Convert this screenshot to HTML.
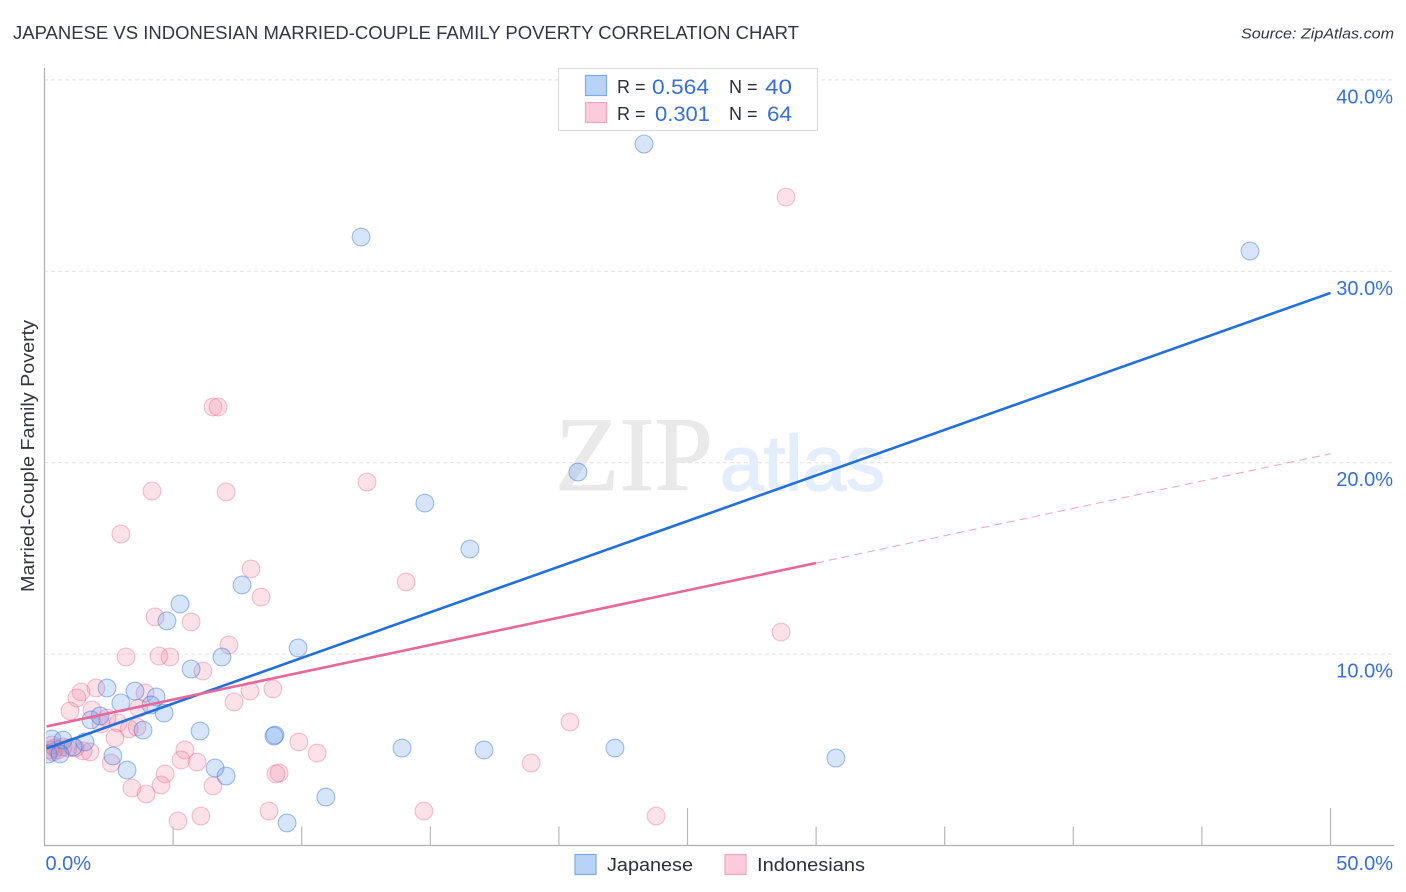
<!DOCTYPE html>
<html lang="en">
<head>
<meta charset="utf-8">
<title>Japanese vs Indonesian Married-Couple Family Poverty Correlation Chart</title>
<style>
html,body{margin:0;padding:0;background:#fff;width:1406px;height:892px;overflow:hidden}
svg{display:block}
text{font-family:"Liberation Sans",sans-serif}
</style>
</head>
<body>
<svg id="chart" xmlns="http://www.w3.org/2000/svg" width="1406" height="892" viewBox="0 0 1406 892">
  <defs><clipPath id="plot-clip"><rect x="46" y="60" width="1350" height="786"/></clipPath></defs>
  <rect x="0" y="0" width="1406" height="892" fill="#fff"/>
  <text x="13" y="39" font-size="18.5" fill="#33373d" textLength="786" lengthAdjust="spacingAndGlyphs">JAPANESE VS INDONESIAN MARRIED-COUPLE FAMILY POVERTY CORRELATION CHART</text>
  <text x="1241" y="38.5" font-size="15" font-style="italic" fill="#33373d" textLength="153" lengthAdjust="spacingAndGlyphs">Source: ZipAtlas.com</text>

  <g id="grid-layer"></g>

  <g>
    <text x="555" y="490" font-size="106" fill="#e9e9e9" stroke="#e9e9e9" stroke-width="0.8" style="font-family:'Liberation Serif',serif" textLength="158" lengthAdjust="spacingAndGlyphs">ZIP</text>
    <text x="720" y="490" font-size="78" fill="#e4edfb" stroke="#e4edfb" stroke-width="1.6" textLength="165" lengthAdjust="spacingAndGlyphs">atlas</text>
  </g>

  <g id="points-layer" clip-path="url(#plot-clip)"></g>
  <g id="lines-layer"></g>

  <g id="axes-layer">
    <line x1="44.5" y1="68" x2="44.5" y2="846" stroke="#b0b0b0" stroke-width="1.2"/>
    <line x1="44" y1="845.5" x2="1394" y2="845.5" stroke="#b0b0b0" stroke-width="1.2"/>
  </g>

  <text transform="translate(34,456) rotate(-90)" text-anchor="middle" font-size="18" fill="#33373d" textLength="272" lengthAdjust="spacingAndGlyphs">Married-Couple Family Poverty</text>

  <g>
    <rect x="558.5" y="68.5" width="259" height="62" fill="#fff" stroke="#dcdcdc" stroke-width="1.2"/>
    <rect x="585.5" y="75.5" width="21" height="20" fill="#b9d3f7" stroke="#7faae6" stroke-width="1.2"/>
    <rect x="585.5" y="102.5" width="21" height="20" fill="#fdcbdb" stroke="#f0a5bd" stroke-width="1.2"/>
    <text x="617" y="93" font-size="18" fill="#2b2f36">R =</text>
    <text x="652" y="94" font-size="21" fill="#3a70d2" textLength="57" lengthAdjust="spacingAndGlyphs">0.564</text>
    <text x="729" y="93" font-size="18" fill="#2b2f36">N =</text>
    <text x="765" y="94" font-size="21" fill="#3a70d2" textLength="27" lengthAdjust="spacingAndGlyphs">40</text>
    <text x="617" y="120" font-size="18" fill="#2b2f36">R =</text>
    <text x="655" y="121" font-size="21" fill="#3a70d2" textLength="55" lengthAdjust="spacingAndGlyphs">0.301</text>
    <text x="729" y="120" font-size="18" fill="#2b2f36">N =</text>
    <text x="767" y="121" font-size="21" fill="#3a70d2" textLength="25" lengthAdjust="spacingAndGlyphs">64</text>
  </g>

  <g>
    <rect x="575" y="854.5" width="21" height="20" fill="#b9d3f7" stroke="#7faae6" stroke-width="1.2"/>
    <text x="607" y="871" font-size="18.5" fill="#2b2f36" textLength="86" lengthAdjust="spacingAndGlyphs">Japanese</text>
    <rect x="725" y="854.5" width="21" height="20" fill="#fdcbdb" stroke="#f0a5bd" stroke-width="1.2"/>
    <text x="757" y="871" font-size="18.5" fill="#2b2f36" textLength="108" lengthAdjust="spacingAndGlyphs">Indonesians</text>
  </g>
</svg>
<script>
const yTickValues = [10, 20, 30, 40];
const yTickLabels = ["10.0%", "20.0%", "30.0%", "40.0%"];
const xTickValues = [0, 5, 10, 15, 20, 25, 30, 35, 40, 45, 50];
const xEndValues = [0, 50];
const xEndLabels = ["0.0%", "50.0%"];
const majorXTicks = [25, 50];

const japaneseX = [23.31,12.31,46.87,20.74,14.79,16.54,7.68,5.27,4.76,9.86,6.90,5.70,2.43,3.52,4.34,2.97,4.14,4.65,1.81,2.16,3.83,6.05,8.96,8.92,2.66,3.21,6.63,7.06,10.94,9.43,13.90,17.09,22.18,30.77,0.29,0.72,1.57,0.14,1.11,0.60];
const japaneseY = [36.65,31.79,31.06,19.51,17.89,15.49,13.61,12.62,11.73,10.32,9.85,9.22,8.23,8.07,7.76,7.45,7.34,6.92,6.56,6.77,6.03,5.98,5.77,5.72,4.68,3.94,4.05,3.63,2.53,1.18,5.09,4.99,5.09,4.57,5.56,5.51,5.41,4.78,5.15,4.78];

const indonesiansX = [4.30,5.70,8.42,3.17,4.45,4.88,7.17,6.16,2.00,1.42,1.26,3.91,0.99,1.85,3.67,7.99,8.88,7.37,2.86,2.20,2.43,3.29,3.60,2.74,9.89,10.60,1.77,1.50,1.19,0.72,2.59,5.46,5.31,5.93,4.69,4.53,3.40,3.95,6.55,9.12,9.00,8.73,6.08,5.19,28.83,6.55,6.75,4.18,7.06,12.54,2.97,8.03,14.06,28.64,20.43,18.92,14.75,23.78,0.29,0.41,0.52,0.21,0.91,0.33];
const indonesiansY = [11.94,11.68,12.98,9.85,9.90,9.85,10.48,9.12,8.23,8.02,7.71,7.97,7.03,7.08,7.18,8.07,8.18,7.50,6.40,6.35,6.66,6.09,6.19,5.62,5.41,4.83,4.89,4.94,5.09,5.15,4.31,4.99,4.47,4.36,3.74,3.16,3.00,2.69,3.11,3.79,3.74,1.80,1.54,1.28,33.88,22.91,22.91,18.52,18.47,18.99,16.27,14.45,13.77,11.15,6.45,4.31,1.80,1.54,5.25,5.09,4.99,4.99,5.09,4.89];

const japaneseTrendX = [0.08, 50];
const japaneseTrendY = [5.07, 28.87];
const indonesiansTrendX = [0.08, 30];
const indonesiansTrendY = [6.22, 14.76];
const indonesiansDashX = [30, 50];
const indonesiansDashY = [14.76, 20.47];

const NS = "http://www.w3.org/2000/svg";
const xAxis = v => 44.5 + v * 25.72;
const yAxis = v => 845.5 - v * 19.14;

function make(tag, parent, props) {
  const el = document.createElementNS(NS, tag);
  for (const k in props) el.setAttribute(k, props[k]);
  parent.appendChild(el);
  return el;
}

const gridLayer = document.getElementById("grid-layer");
const axesLayer = document.getElementById("axes-layer");
const pointsLayer = document.getElementById("points-layer");
const linesLayer = document.getElementById("lines-layer");

yTickValues.forEach((v, i) => {
  const gl = make("line", gridLayer, {x1: 44, x2: 1394, y1: yAxis(v), y2: yAxis(v), stroke: "#e2e2e2", "stroke-width": 1, "stroke-dasharray": "4 3"});
  
  
  const t = make("text", axesLayer, {x: 1393, y: yAxis(v) + 23.5, "text-anchor": "end", "font-size": 20, fill: "#3a70d2"});
  
  
  t.textContent = yTickLabels[i];
});

xTickValues.forEach(v => {
  const major = majorXTicks.indexOf(v) >= 0;
  if (v === 0) return;
  const tk = make("line", axesLayer, {x1: xAxis(v), x2: xAxis(v), y1: major ? 808 : 826.5, y2: 845.5, stroke: "#b8b8b8", "stroke-width": 1.2});
  
  
});

xEndValues.forEach((v, i) => {
  const t = make("text", axesLayer, {x: i === 0 ? xAxis(v) + 1 : 1393, y: 870, "text-anchor": i === 0 ? "start" : "end", "font-size": 20, fill: "#3a70d2"});
  
  
  t.textContent = xEndLabels[i];
});

indonesiansX.forEach((v, i) => {
  const c = make("circle", pointsLayer, {cx: xAxis(v), cy: yAxis(indonesiansY[i]), r: 8.9, fill: "rgba(244,130,165,0.24)", stroke: "rgba(232,96,142,0.38)", "stroke-width": 1.1});
  
  
});

japaneseX.forEach((v, i) => {
  const c = make("circle", pointsLayer, {cx: xAxis(v), cy: yAxis(japaneseY[i]), r: 8.9, fill: "rgba(105,160,238,0.27)", stroke: "rgba(40,105,210,0.42)", "stroke-width": 1.1});
  
  
});

const pinkDash = make("line", linesLayer, {x1: xAxis(indonesiansDashX[0]), y1: yAxis(indonesiansDashY[0]), x2: xAxis(indonesiansDashX[1]), y2: yAxis(indonesiansDashY[1]), stroke: "#f0a3bf", "stroke-width": 1, "stroke-dasharray": "8 5"});



const blueLine = make("line", linesLayer, {x1: xAxis(japaneseTrendX[0]), y1: yAxis(japaneseTrendY[0]), x2: xAxis(japaneseTrendX[1]), y2: yAxis(japaneseTrendY[1]), stroke: "#2270da", "stroke-width": 2.6});



const pinkLine = make("line", linesLayer, {x1: xAxis(indonesiansTrendX[0]), y1: yAxis(indonesiansTrendY[0]), x2: xAxis(indonesiansTrendX[1]), y2: yAxis(indonesiansTrendY[1]), stroke: "#e8689a", "stroke-width": 2.6});


</script>
</body>
</html>
